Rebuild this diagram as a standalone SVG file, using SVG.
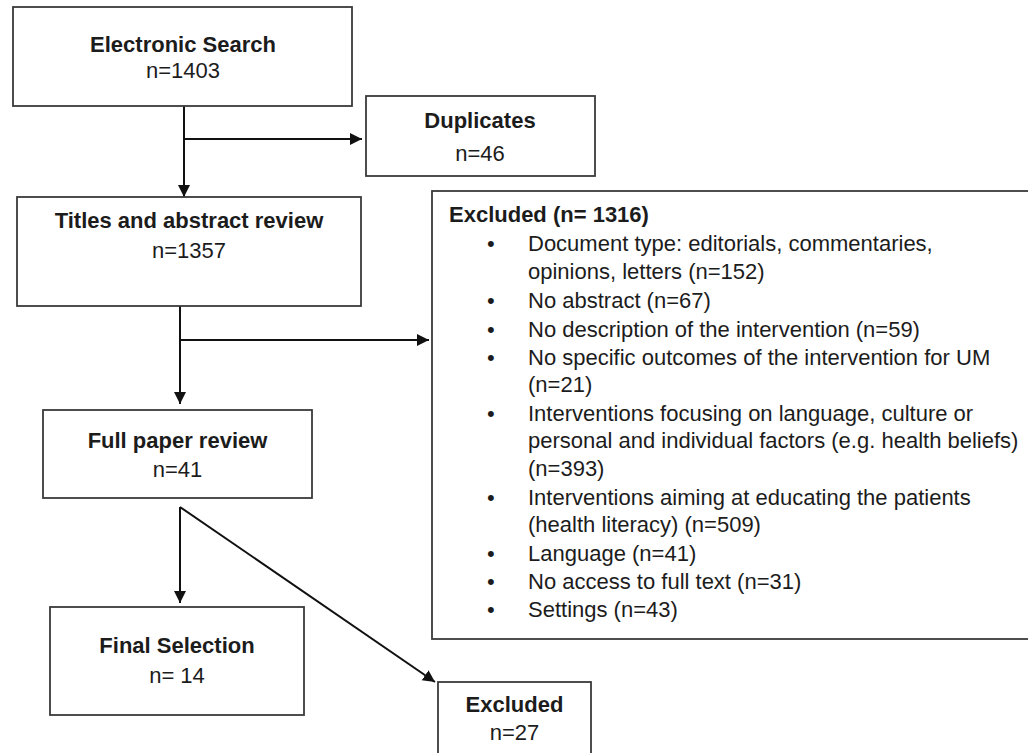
<svg xmlns="http://www.w3.org/2000/svg" width="1028" height="753" viewBox="0 0 1028 753">
  <style>
    .box { fill: #ffffff; stroke: #3a3a3a; stroke-width: 1.8; }
    .t { font-family: "Liberation Sans", Arial, sans-serif; font-size: 22px; fill: #1c1c1c; }
    .b { font-weight: bold; }
    .c { text-anchor: middle; }
    .edge { stroke: #111111; stroke-width: 2; fill: none; marker-end: url(#arr); }
  </style>
  <defs>
    <marker id="arr" markerUnits="userSpaceOnUse" markerWidth="14" markerHeight="14" refX="12" refY="6" orient="auto">
      <path d="M0,0 L12,6 L0,12 z" fill="#111111"/>
    </marker>
  </defs>
  <rect x="0" y="0" width="1028" height="753" fill="#ffffff"/>

  <g id="connectors">
    <line class="edge" x1="184" y1="106" x2="184" y2="197"/>
    <line class="edge" x1="184" y1="139" x2="362" y2="139"/>
    <line class="edge" x1="180" y1="306" x2="180" y2="404"/>
    <line class="edge" x1="180" y1="340" x2="429" y2="340"/>
    <line class="edge" x1="180" y1="507" x2="180" y2="603"/>
    <line class="edge" x1="180" y1="507" x2="435" y2="682"/>
  </g>

  <g id="electronic-search">
    <rect class="box" x="13" y="7" width="339" height="99"/>
    <text class="t b c" x="183" y="52">Electronic Search</text>
    <text class="t c" x="183" y="78">n=1403</text>
  </g>

  <g id="duplicates">
    <rect class="box" x="366" y="96" width="229" height="80"/>
    <text class="t b c" x="480" y="128">Duplicates</text>
    <text class="t c" x="480" y="161">n=46</text>
  </g>

  <g id="titles-abstract-review">
    <rect class="box" x="17" y="197" width="344" height="109"/>
    <text class="t b c" x="189" y="228">Titles and abstract review</text>
    <text class="t c" x="189" y="258">n=1357</text>
  </g>

  <g id="excluded-1316">
    <rect class="box" x="432" y="191" width="620" height="448"/>
    <text class="t b" x="449" y="222">Excluded (n= 1316)</text>
    <g class="t">
      <text x="487" y="251">•</text>
      <text x="528" y="251">Document type: editorials, commentaries,</text>
      <text x="528" y="279">opinions, letters (n=152)</text>
      <text x="487" y="308">•</text>
      <text x="528" y="308">No abstract (n=67)</text>
      <text x="487" y="337">•</text>
      <text x="528" y="337">No description of the intervention (n=59)</text>
      <text x="487" y="365">•</text>
      <text x="528" y="365">No specific outcomes of the intervention for UM</text>
      <text x="528" y="392">(n=21)</text>
      <text x="487" y="421">•</text>
      <text x="528" y="421">Interventions focusing on language, culture or</text>
      <text x="528" y="448">personal and individual factors (e.g. health beliefs)</text>
      <text x="528" y="476">(n=393)</text>
      <text x="487" y="505">•</text>
      <text x="528" y="505">Interventions aiming at educating the patients</text>
      <text x="528" y="532">(health literacy) (n=509)</text>
      <text x="487" y="561">•</text>
      <text x="528" y="561">Language (n=41)</text>
      <text x="487" y="589">•</text>
      <text x="528" y="589">No access to full text (n=31)</text>
      <text x="487" y="617">•</text>
      <text x="528" y="617">Settings (n=43)</text>
    </g>
  </g>

  <g id="full-paper-review">
    <rect class="box" x="43" y="410" width="269" height="88"/>
    <text class="t b c" x="177.5" y="448">Full paper review</text>
    <text class="t c" x="177.5" y="477">n=41</text>
  </g>

  <g id="final-selection">
    <rect class="box" x="50" y="607" width="254" height="108"/>
    <text class="t b c" x="177" y="653">Final Selection</text>
    <text class="t c" x="177" y="683">n= 14</text>
  </g>

  <g id="excluded-27">
    <rect class="box" x="438" y="682" width="153" height="90"/>
    <text class="t b c" x="514.5" y="712">Excluded</text>
    <text class="t c" x="514.5" y="740">n=27</text>
  </g>
</svg>
